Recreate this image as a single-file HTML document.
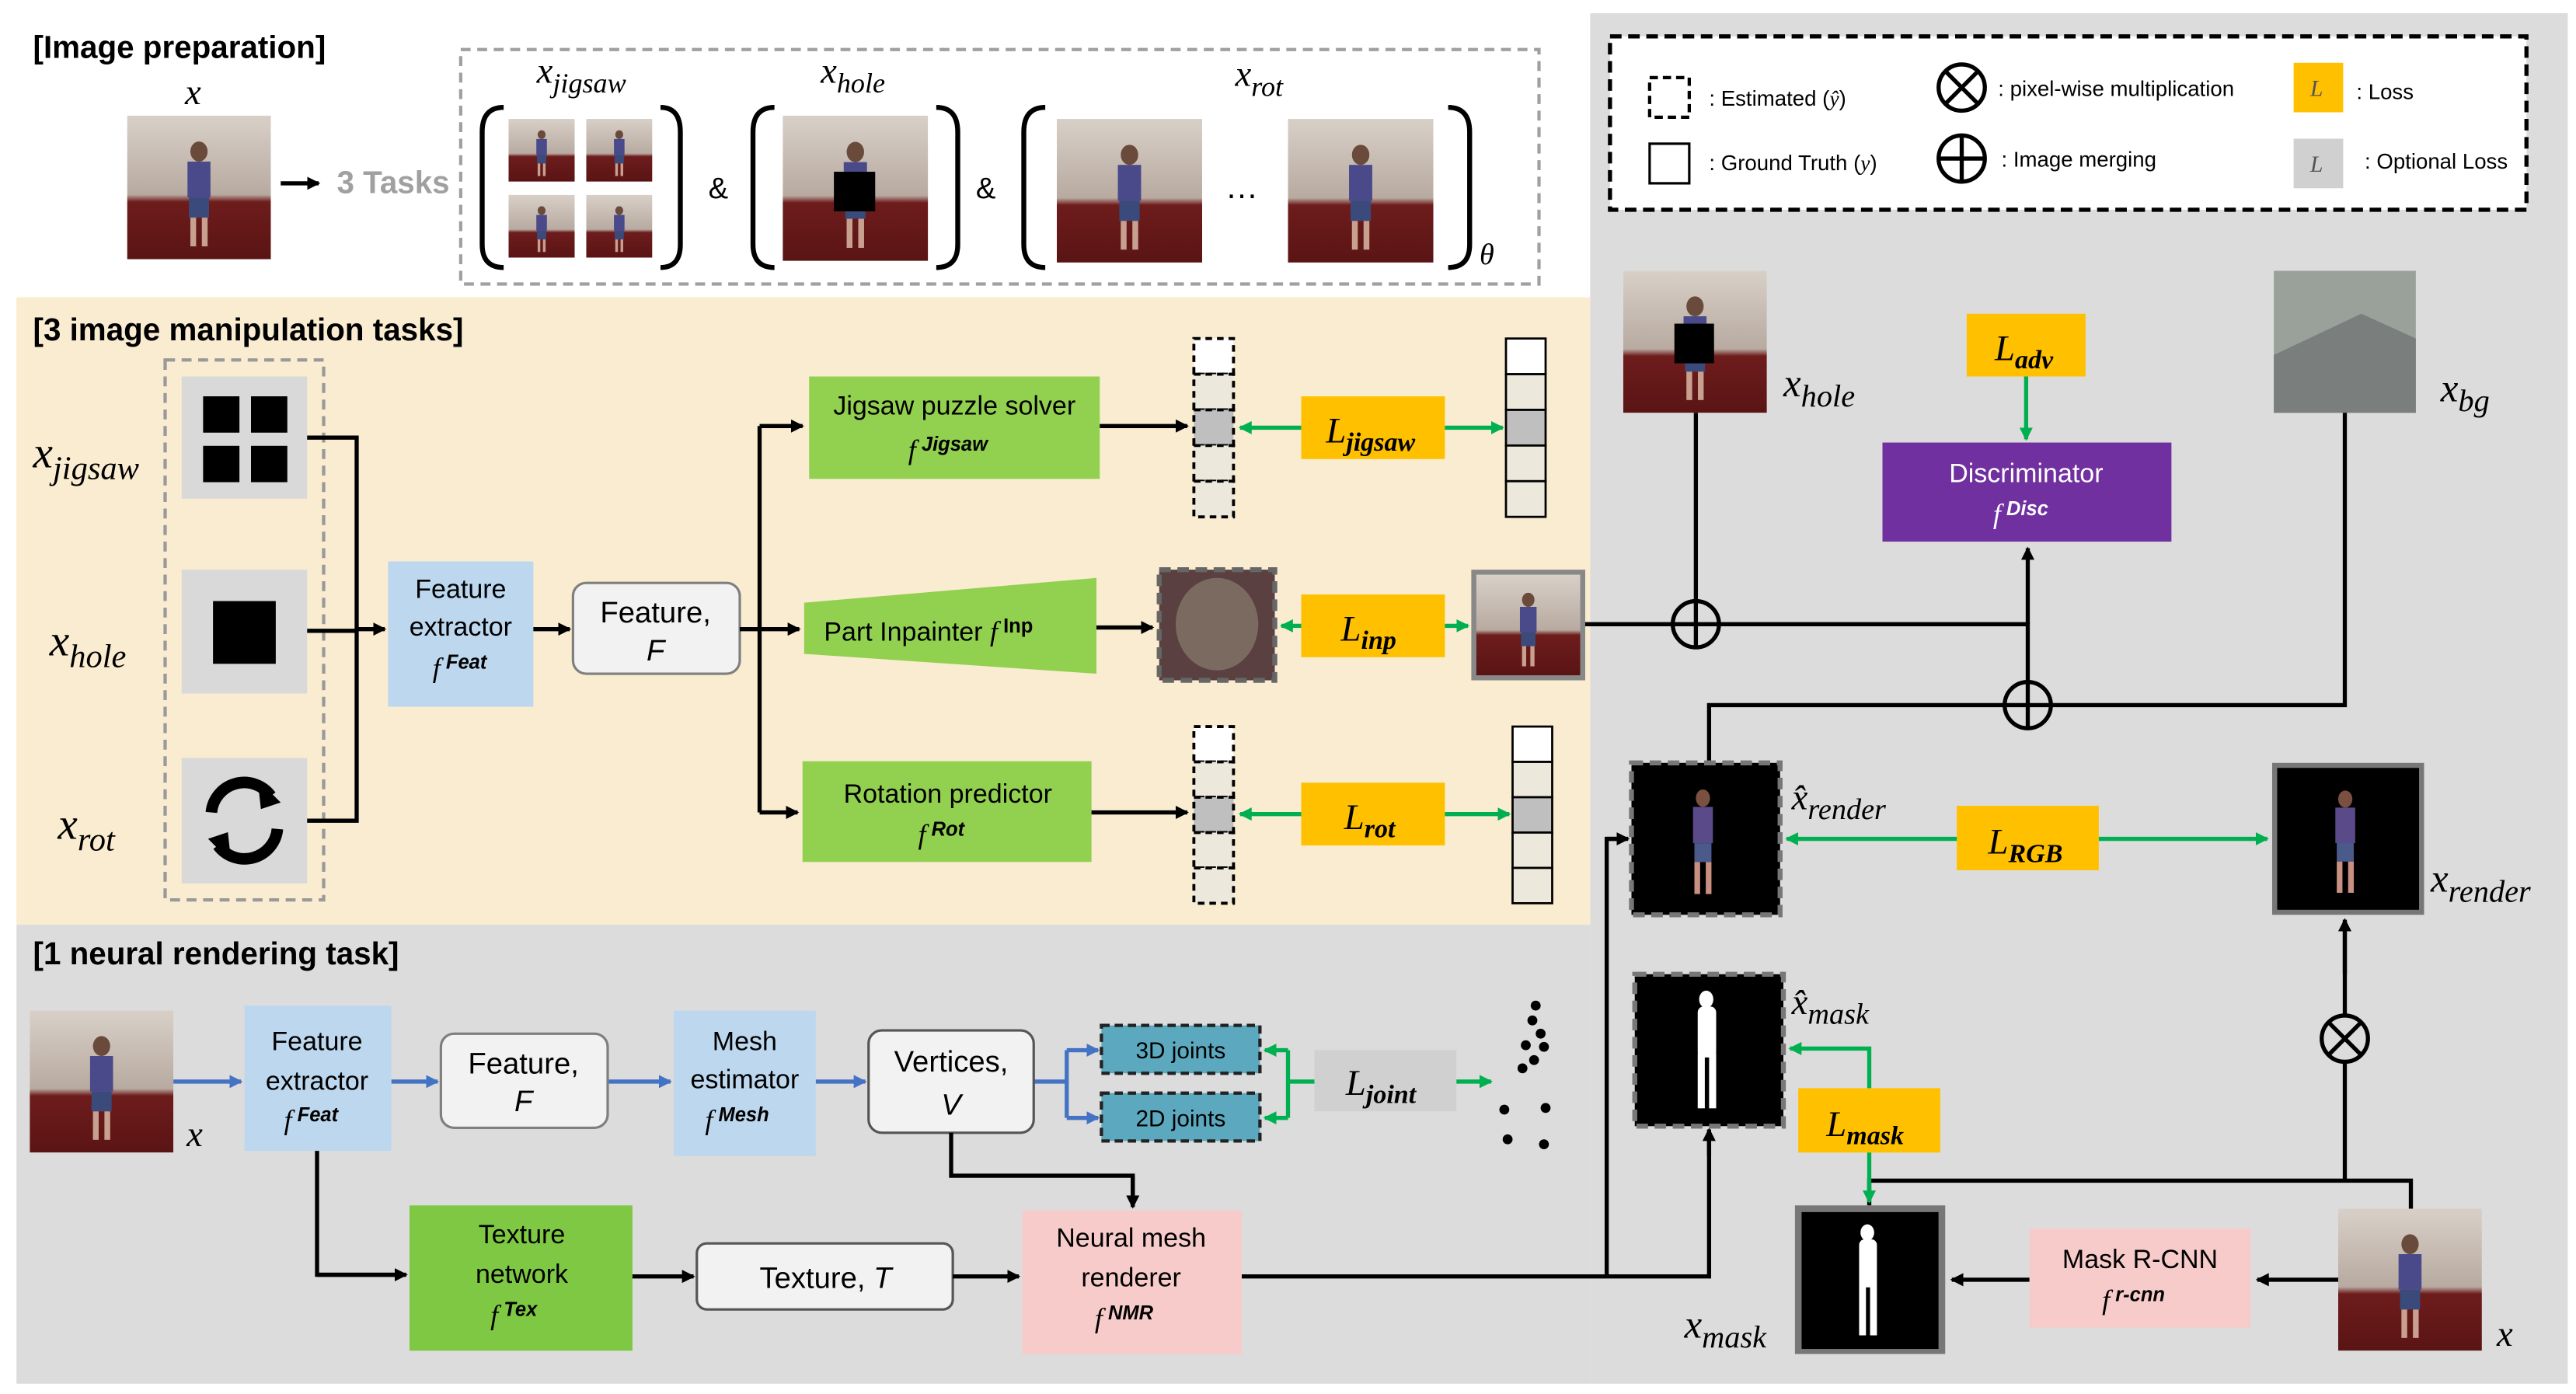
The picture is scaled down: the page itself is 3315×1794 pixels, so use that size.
<!DOCTYPE html>
<html><head><meta charset="utf-8"><style>
html,body{margin:0;padding:0;background:#fff;}
svg{display:block;}
.s{font-family:"Liberation Sans",sans-serif;}
.m{font-family:"Liberation Serif",serif;font-style:italic;}
</style></head><body>
<svg width="3315" height="1794" viewBox="0 0 1560 844.2" xmlns="http://www.w3.org/2000/svg">
<defs>
<marker id="ak" markerWidth="8" markerHeight="8" refX="7" refY="4" orient="auto" markerUnits="userSpaceOnUse"><path d="M0,0 L8,4 L0,8 z" fill="#000"/></marker>
<marker id="ag" markerWidth="8" markerHeight="8" refX="7" refY="4" orient="auto" markerUnits="userSpaceOnUse"><path d="M0,0 L8,4 L0,8 z" fill="#00b050"/></marker>
<marker id="ab" markerWidth="8" markerHeight="8" refX="7" refY="4" orient="auto" markerUnits="userSpaceOnUse"><path d="M0,0 L8,4 L0,8 z" fill="#4472c4"/></marker>
<linearGradient id="pg" x1="0" y1="0" x2="0" y2="1"><stop offset="0" stop-color="#d8d0c8"/><stop offset="0.55" stop-color="#b8aaa0"/><stop offset="0.6" stop-color="#6e1c1c"/><stop offset="1" stop-color="#5a1414"/></linearGradient>
<symbol id="ph" viewBox="0 0 100 100" preserveAspectRatio="none"><rect width="100" height="100" fill="url(#pg)"/><ellipse cx="50" cy="25" rx="6" ry="7" fill="#6a4a3a"/><rect x="42" y="32" width="16" height="25" fill="#4a4a8a"/><rect x="43" y="57" width="14" height="14" fill="#3a4a7a"/><rect x="44" y="71" width="4" height="20" fill="#c8a090"/><rect x="52" y="71" width="4" height="20" fill="#c8a090"/></symbol>
<symbol id="ren" viewBox="0 0 100 100" preserveAspectRatio="none"><rect width="100" height="100" fill="#000"/><ellipse cx="48" cy="22" rx="5" ry="6" fill="#7a5040"/><rect x="41" y="28" width="14" height="25" fill="#5a4a8a"/><rect x="42" y="53" width="12" height="13" fill="#4a5a8a"/><rect x="42" y="66" width="4" height="22" fill="#c89080"/><rect x="50" y="66" width="4" height="22" fill="#c89080"/></symbol>
<symbol id="msk" viewBox="0 0 100 100" preserveAspectRatio="none"><rect width="100" height="100" fill="#000"/><ellipse cx="48" cy="15" rx="5" ry="6" fill="#fff"/><rect x="42" y="20" width="13" height="35" rx="4" fill="#fff"/><rect x="42" y="52" width="5" height="38" fill="#fff"/><rect x="50" y="52" width="5" height="38" fill="#fff"/></symbol>
</defs>

<!-- panels -->
<rect x="963" y="8" width="592" height="830" fill="#dcdcdc"/>
<rect x="10" y="560" width="953" height="278" fill="#dcdcdc"/>
<rect x="10" y="180" width="953" height="380" fill="#f9ecd0"/>

<!-- Image preparation -->
<text x="20" y="35" class="s" font-size="19" font-weight="bold">[Image preparation]</text>
<use href="#ph" x="77" y="70" width="87" height="87"/>
<text x="112" y="63" class="m" font-size="22">x</text>
<line x1="170" y1="111" x2="193" y2="111" stroke="#000" stroke-width="2.5" marker-end="url(#ak)"/>
<text x="204" y="117" class="s" font-size="19" font-weight="bold" fill="#a0a0a0">3 Tasks</text>
<rect x="279" y="30" width="653" height="142" fill="none" stroke="#a0a0a0" stroke-width="2" stroke-dasharray="6,4"/>
<g fill="none" stroke="#000" stroke-width="3">
<path d="M305,65 Q292,65 292,80 L292,148 Q292,162 305,162"/><path d="M400,65 Q412,65 412,80 L412,148 Q412,162 400,162"/>
<path d="M469,65 Q456,65 456,80 L456,148 Q456,162 469,162"/><path d="M567,65 Q580,65 580,80 L580,148 Q580,162 567,162"/>
<path d="M633,65 Q620,65 620,80 L620,148 Q620,162 633,162"/><path d="M877,65 Q890,65 890,80 L890,148 Q890,162 877,162"/>
</g>
<use href="#ph" x="308" y="72" width="40" height="38"/><use href="#ph" x="355" y="72" width="40" height="38"/>
<use href="#ph" x="308" y="118" width="40" height="38"/><use href="#ph" x="355" y="118" width="40" height="38"/>
<text x="325" y="50" class="m" font-size="22">x<tspan font-size="17" dy="6">jigsaw</tspan></text>
<text x="429" y="120" class="s" font-size="18">&amp;</text>
<use href="#ph" x="474" y="70" width="88" height="88"/><rect x="505" y="104" width="25" height="24" fill="#000"/>
<text x="497" y="50" class="m" font-size="22">x<tspan font-size="17" dy="6">hole</tspan></text>
<text x="591" y="120" class="s" font-size="18">&amp;</text>
<use href="#ph" x="640" y="72" width="88" height="87"/><use href="#ph" x="780" y="72" width="88" height="87"/>
<text x="742" y="120" class="s" font-size="20">…</text>
<text x="748" y="52" class="m" font-size="22">x<tspan font-size="17" dy="6">rot</tspan></text>
<text x="896" y="160" class="m" font-size="18">θ</text>

<!-- legend -->
<rect x="975" y="22" width="555" height="105" fill="#fff" stroke="#000" stroke-width="2.5" stroke-dasharray="7,4"/>
<rect x="999" y="47" width="24" height="24" fill="none" stroke="#000" stroke-width="2" stroke-dasharray="5,3"/>
<text x="1035" y="64" class="s" font-size="13">: Estimated (<tspan class="m">ŷ</tspan>)</text>
<rect x="999" y="87" width="24" height="24" fill="none" stroke="#000" stroke-width="1.5"/>
<text x="1035" y="103" class="s" font-size="13">: Ground Truth (<tspan class="m">y</tspan>)</text>
<g stroke="#000" stroke-width="2.5" fill="none">
<circle cx="1188" cy="53" r="14"/><path d="M1178,43 L1198,63 M1198,43 L1178,63"/>
<circle cx="1188" cy="96" r="14"/><path d="M1174,96 L1202,96 M1188,82 L1188,110"/>
</g>
<text x="1210" y="58" class="s" font-size="13">: pixel-wise multiplication</text>
<text x="1212" y="101" class="s" font-size="13">: Image merging</text>
<rect x="1389" y="38" width="30" height="30" fill="#ffc000"/><text x="1399" y="58" class="m" font-size="14" fill="#555">L</text>
<text x="1427" y="60" class="s" font-size="13">: Loss</text>
<rect x="1389" y="84" width="30" height="30" fill="#d0d0d0"/><text x="1399" y="104" class="m" font-size="14" fill="#555">L</text>
<text x="1432" y="102" class="s" font-size="13">: Optional Loss</text>

<!-- 3 manipulation tasks -->
<text x="20" y="206" class="s" font-size="19" font-weight="bold">[3 image manipulation tasks]</text>
<text x="20" y="283" class="m" font-size="27">x<tspan font-size="20" dy="7">jigsaw</tspan></text>
<text x="30" y="397" class="m" font-size="27">x<tspan font-size="20" dy="7">hole</tspan></text>
<text x="35" y="508" class="m" font-size="27">x<tspan font-size="20" dy="7">rot</tspan></text>
<rect x="100" y="218" width="96" height="327" fill="none" stroke="#999" stroke-width="2" stroke-dasharray="6,4"/>
<rect x="110" y="228" width="76" height="74" fill="#d9d9d9"/>
<rect x="123" y="240" width="22" height="22" fill="#000"/><rect x="152" y="240" width="22" height="22" fill="#000"/>
<rect x="123" y="270" width="22" height="22" fill="#000"/><rect x="152" y="270" width="22" height="22" fill="#000"/>
<rect x="110" y="345" width="76" height="75" fill="#d9d9d9"/><rect x="129" y="364" width="38" height="38" fill="#000"/>
<rect x="110" y="459" width="76" height="76" fill="#d9d9d9"/>
<g fill="none" stroke="#000" stroke-width="7"><path d="M128,492 A20,20 0 0 1 164,482"/><path d="M168,502 A20,20 0 0 1 132,512"/></g>
<path d="M156,472 L170,486 L158,490 z M140,522 L126,508 L138,504 z" fill="#000"/>
<g stroke="#000" stroke-width="2.5" fill="none">
<path d="M186,265 L216,265 L216,497 L186,497 M186,382 L216,382"/>
</g>
<line x1="216" y1="381" x2="233" y2="381" stroke="#000" stroke-width="2.5" marker-end="url(#ak)"/>
<rect x="235" y="340" width="88" height="88" fill="#bdd7ee"/>
<text x="279" y="362" class="s" font-size="16" text-anchor="middle">Feature</text>
<text x="279" y="385" class="s" font-size="16" text-anchor="middle">extractor</text>
<text x="262" y="410" class="m" font-size="17">f<tspan class="s" font-size="12" font-weight="bold" dy="-5"> Feat</tspan></text>
<line x1="323" y1="381" x2="345" y2="381" stroke="#000" stroke-width="2.5" marker-end="url(#ak)"/>
<rect x="347" y="353" width="101" height="55" rx="8" fill="#f2f2f2" stroke="#7f7f7f" stroke-width="1.5"/>
<text x="397" y="377" class="s" font-size="18" text-anchor="middle">Feature,</text>
<text x="397" y="400" class="s" font-size="18" text-anchor="middle" font-style="italic">F</text>
<g stroke="#000" stroke-width="2.5" fill="none"><path d="M448,381 L460,381 M460,258 L460,492"/></g>
<line x1="460" y1="258" x2="486" y2="258" stroke="#000" stroke-width="2.5" marker-end="url(#ak)"/>
<line x1="460" y1="381" x2="484" y2="381" stroke="#000" stroke-width="2.5" marker-end="url(#ak)"/>
<line x1="460" y1="492" x2="483" y2="492" stroke="#000" stroke-width="2.5" marker-end="url(#ak)"/>
<rect x="490" y="228" width="176" height="62" fill="#92d050"/>
<text x="578" y="251" class="s" font-size="16" text-anchor="middle">Jigsaw puzzle solver</text>
<text x="550" y="278" class="m" font-size="17">f<tspan class="s" font-size="12" font-weight="bold" dy="-5"> Jigsaw</tspan></text>
<path d="M487,365 L664,350 L664,408 L487,396 z" fill="#92d050"/>
<text x="499" y="388" class="s" font-size="16">Part Inpainter <tspan class="m" font-size="17">f</tspan><tspan font-size="12" font-weight="bold" dy="-5"> Inp</tspan></text>
<rect x="486" y="461" width="175" height="61" fill="#92d050"/>
<text x="574" y="486" class="s" font-size="16" text-anchor="middle">Rotation predictor</text>
<text x="556" y="511" class="m" font-size="17">f<tspan class="s" font-size="12" font-weight="bold" dy="-5"> Rot</tspan></text>

<line x1="666" y1="258" x2="719" y2="258" stroke="#000" stroke-width="2.5" marker-end="url(#ak)"/>
<line x1="664" y1="380" x2="698" y2="380" stroke="#000" stroke-width="2.5" marker-end="url(#ak)"/>
<line x1="661" y1="492" x2="719" y2="492" stroke="#000" stroke-width="2.5" marker-end="url(#ak)"/>
<!-- stacks -->
<g stroke="#000" stroke-width="1.8" stroke-dasharray="4,3">
<rect x="723" y="205" width="24" height="21.6" fill="#fff"/><rect x="723" y="226.6" width="24" height="21.6" fill="#ece8dc"/><rect x="723" y="248.2" width="24" height="21.6" fill="#bfbfbf"/><rect x="723" y="269.8" width="24" height="21.6" fill="#ece8dc"/><rect x="723" y="291.4" width="24" height="21.6" fill="#ece8dc"/>
<rect x="723" y="440" width="24" height="21.4" fill="#fff"/><rect x="723" y="461.4" width="24" height="21.4" fill="#ece8dc"/><rect x="723" y="482.8" width="24" height="21.4" fill="#bfbfbf"/><rect x="723" y="504.2" width="24" height="21.4" fill="#ece8dc"/><rect x="723" y="525.6" width="24" height="21.4" fill="#ece8dc"/>
</g>
<g stroke="#000" stroke-width="1.3">
<rect x="912" y="205" width="24" height="21.6" fill="#fff"/><rect x="912" y="226.6" width="24" height="21.6" fill="#ece8dc"/><rect x="912" y="248.2" width="24" height="21.6" fill="#bfbfbf"/><rect x="912" y="269.8" width="24" height="21.6" fill="#ece8dc"/><rect x="912" y="291.4" width="24" height="21.6" fill="#ece8dc"/>
<rect x="916" y="440" width="24" height="21.4" fill="#fff"/><rect x="916" y="461.4" width="24" height="21.4" fill="#ece8dc"/><rect x="916" y="482.8" width="24" height="21.4" fill="#bfbfbf"/><rect x="916" y="504.2" width="24" height="21.4" fill="#ece8dc"/><rect x="916" y="525.6" width="24" height="21.4" fill="#ece8dc"/>
</g>
<rect x="702" y="345" width="70" height="67" fill="#5a4040" stroke="#666" stroke-width="3" stroke-dasharray="7,4"/>
<ellipse cx="737" cy="378" rx="25" ry="28" fill="#7a6a60"/>
<rect x="891" y="345" width="69" height="67" fill="#888"/><use href="#ph" x="894" y="348" width="63" height="61"/>
<!-- losses -->
<g fill="#ffc000"><rect x="788" y="240" width="87" height="38"/><rect x="788" y="360" width="87" height="38"/><rect x="788" y="474" width="87" height="38"/></g>
<text x="803" y="268" class="m" font-size="22">L<tspan font-size="16" font-weight="bold" dy="5">jigsaw</tspan></text>
<text x="812" y="388" class="m" font-size="22">L<tspan font-size="16" font-weight="bold" dy="5">inp</tspan></text>
<text x="814" y="502" class="m" font-size="22">L<tspan font-size="16" font-weight="bold" dy="5">rot</tspan></text>
<g stroke="#00b050" stroke-width="2.5">
<line x1="788" y1="259" x2="751" y2="259" marker-end="url(#ag)"/><line x1="875" y1="259" x2="910" y2="259" marker-end="url(#ag)"/>
<line x1="788" y1="379" x2="776" y2="379" marker-end="url(#ag)"/><line x1="875" y1="379" x2="889" y2="379" marker-end="url(#ag)"/>
<line x1="788" y1="493" x2="751" y2="493" marker-end="url(#ag)"/><line x1="875" y1="493" x2="914" y2="493" marker-end="url(#ag)"/>
</g>

<!-- right panel -->
<use href="#ph" x="983" y="164" width="87" height="86"/><rect x="1014" y="196" width="24" height="24" fill="#000"/>
<text x="1080" y="240" class="m" font-size="24">x<tspan font-size="19" dy="6">hole</tspan></text>
<rect x="1377" y="164" width="86" height="86" fill="#9aa09a"/><path d="M1377,215 L1430,190 L1463,205 L1463,250 L1377,250z" fill="#7a7f7e"/>
<text x="1478" y="243" class="m" font-size="24">x<tspan font-size="19" dy="6">bg</tspan></text>
<rect x="1191" y="190" width="72" height="38" fill="#ffc000"/>
<text x="1208" y="218" class="m" font-size="22">L<tspan font-size="16" font-weight="bold" dy="5">adv</tspan></text>
<line x1="1227" y1="228" x2="1227" y2="266" stroke="#00b050" stroke-width="2.5" marker-end="url(#ag)"/>
<rect x="1140" y="268" width="175" height="60" fill="#7030a0"/>
<text x="1227" y="292" class="s" font-size="16" fill="#fff" text-anchor="middle">Discriminator</text>
<text x="1207" y="317" class="m" font-size="17" fill="#fff">f<tspan class="s" font-size="12" font-weight="bold" dy="-5"> Disc</tspan></text>
<g stroke="#000" stroke-width="2.5" fill="none">
<path d="M960,378 L1228,378 L1228,413"/>
<path d="M1027,250 L1027,364"/>
<path d="M1420,250 L1420,427 L1242,427"/>
<path d="M1214,427 L1035,427 L1035,462"/>
<circle cx="1027" cy="378" r="14" fill="#dcdcdc"/><path d="M1013,378 L1041,378 M1027,364 L1027,392"/>
<circle cx="1228" cy="427" r="14" fill="#dcdcdc"/><path d="M1214,427 L1242,427 M1228,413 L1228,441"/>
</g>
<line x1="1228" y1="378" x2="1228" y2="332" stroke="#000" stroke-width="2.5" marker-end="url(#ak)"/>
<rect x="988" y="462" width="90" height="92" fill="#000" stroke="#777" stroke-width="3" stroke-dasharray="7,4"/><use href="#ren" x="990" y="464" width="86" height="88"/>
<text x="1085" y="490" class="m" font-size="22">x̂<tspan font-size="18" dy="6">render</tspan></text>
<rect x="1185" y="488" width="86" height="39" fill="#ffc000"/>
<text x="1204" y="517" class="m" font-size="22">L<tspan font-size="16" font-weight="bold" dy="5">RGB</tspan></text>
<line x1="1185" y1="508" x2="1082" y2="508" stroke="#00b050" stroke-width="2.5" marker-end="url(#ag)"/>
<line x1="1271" y1="508" x2="1373" y2="508" stroke="#00b050" stroke-width="2.5" marker-end="url(#ag)"/>
<rect x="1376" y="462" width="92" height="92" fill="#777"/><use href="#ren" x="1379" y="465" width="86" height="86"/>
<text x="1472" y="540" class="m" font-size="24">x<tspan font-size="19" dy="6">render</tspan></text>
<g stroke="#000" stroke-width="2.5" fill="none">
<path d="M1420,615 L1420,558"/>
<path d="M1420,643 L1420,715 M1132,730 L1132,715 L1460,715 L1460,732"/>
<circle cx="1420" cy="629" r="14" fill="#dcdcdc"/><path d="M1410,619 L1430,639 M1430,619 L1410,639"/>
</g>
<line x1="1420" y1="590" x2="1420" y2="557" stroke="#000" stroke-width="2.5" marker-end="url(#ak)"/>
<rect x="990" y="590" width="90" height="92" fill="#000" stroke="#777" stroke-width="3" stroke-dasharray="7,4"/><use href="#msk" x="992" y="592" width="86" height="88"/>
<text x="1085" y="614" class="m" font-size="22">x̂<tspan font-size="18" dy="6">mask</tspan></text>
<rect x="1089" y="659" width="86" height="39" fill="#ffc000"/>
<text x="1106" y="688" class="m" font-size="22">L<tspan font-size="16" font-weight="bold" dy="5">mask</tspan></text>
<path d="M1132,659 L1132,635 L1084,635" stroke="#00b050" stroke-width="2.5" fill="none" marker-end="url(#ag)"/>
<line x1="1132" y1="698" x2="1132" y2="728" stroke="#00b050" stroke-width="2.5" marker-end="url(#ag)"/>
<rect x="1087" y="730" width="91" height="90" fill="#777"/><use href="#msk" x="1091" y="734" width="83" height="83"/>
<text x="1020" y="810" class="m" font-size="24">x<tspan font-size="19" dy="6">mask</tspan></text>
<rect x="1229" y="744" width="134" height="60" fill="#f8cbcb"/>
<text x="1296" y="768" class="s" font-size="16" text-anchor="middle">Mask R-CNN</text>
<text x="1273" y="793" class="m" font-size="17">f<tspan class="s" font-size="12" font-weight="bold" dy="-5"> r-cnn</tspan></text>
<use href="#ph" x="1416" y="732" width="87" height="86"/>
<text x="1512" y="815" class="m" font-size="22">x</text>
<line x1="1416" y1="775" x2="1367" y2="775" stroke="#000" stroke-width="2.5" marker-end="url(#ak)"/>
<line x1="1229" y1="775" x2="1182" y2="775" stroke="#000" stroke-width="2.5" marker-end="url(#ak)"/>

<!-- bottom neural rendering -->
<text x="20" y="584" class="s" font-size="19" font-weight="bold">[1 neural rendering task]</text>
<use href="#ph" x="18" y="612" width="87" height="86"/>
<text x="113" y="694" class="m" font-size="22">x</text>
<g stroke="#4472c4" stroke-width="2.5">
<line x1="105" y1="655" x2="146" y2="655" marker-end="url(#ab)"/>
<line x1="237" y1="655" x2="265" y2="655" marker-end="url(#ab)"/>
<line x1="368" y1="655" x2="406" y2="655" marker-end="url(#ab)"/>
<line x1="494" y1="655" x2="524" y2="655" marker-end="url(#ab)"/>
<path d="M626,655 L646,655 L646,636 M646,655 L646,677" fill="none"/>
<line x1="646" y1="636" x2="665" y2="636" marker-end="url(#ab)"/>
<line x1="646" y1="677" x2="665" y2="677" marker-end="url(#ab)"/>
</g>
<rect x="148" y="609" width="89" height="88" fill="#bdd7ee"/>
<text x="192" y="636" class="s" font-size="16" text-anchor="middle">Feature</text>
<text x="192" y="660" class="s" font-size="16" text-anchor="middle">extractor</text>
<text x="172" y="684" class="m" font-size="17">f<tspan class="s" font-size="12" font-weight="bold" dy="-5"> Feat</tspan></text>
<rect x="267" y="626" width="101" height="57" rx="8" fill="#f2f2f2" stroke="#7f7f7f" stroke-width="1.5"/>
<text x="317" y="650" class="s" font-size="18" text-anchor="middle">Feature,</text>
<text x="317" y="673" class="s" font-size="18" text-anchor="middle" font-style="italic">F</text>
<rect x="408" y="612" width="86" height="88" fill="#bdd7ee"/>
<text x="451" y="636" class="s" font-size="16" text-anchor="middle">Mesh</text>
<text x="451" y="659" class="s" font-size="16" text-anchor="middle">estimator</text>
<text x="427" y="684" class="m" font-size="17">f<tspan class="s" font-size="12" font-weight="bold" dy="-5"> Mesh</tspan></text>
<rect x="526" y="624" width="100" height="62" rx="8" fill="#f2f2f2" stroke="#555" stroke-width="1.5"/>
<text x="576" y="649" class="s" font-size="18" text-anchor="middle">Vertices,</text>
<text x="576" y="675" class="s" font-size="18" text-anchor="middle" font-style="italic">V</text>
<rect x="667" y="621" width="96" height="29" fill="#5ba8bf" stroke="#222" stroke-width="2" stroke-dasharray="5,3"/>
<text x="715" y="641" class="s" font-size="14" text-anchor="middle">3D joints</text>
<rect x="667" y="662" width="96" height="29" fill="#5ba8bf" stroke="#222" stroke-width="2" stroke-dasharray="5,3"/>
<text x="715" y="682" class="s" font-size="14" text-anchor="middle">2D joints</text>
<rect x="796" y="636" width="86" height="37" fill="#d0d0d0"/>
<text x="815" y="663" class="m" font-size="22">L<tspan font-size="16" font-weight="bold" dy="5">joint</tspan></text>
<g stroke="#00b050" stroke-width="2.5" fill="none">
<path d="M796,655 L780,655 M780,636 L780,677"/>
<line x1="780" y1="636" x2="766" y2="636" marker-end="url(#ag)"/>
<line x1="780" y1="677" x2="766" y2="677" marker-end="url(#ag)"/>
<line x1="882" y1="655" x2="903" y2="655" marker-end="url(#ag)"/>
</g>
<g fill="#000"><circle cx="930" cy="609" r="3"/><circle cx="928" cy="618" r="3"/><circle cx="933" cy="626" r="3"/><circle cx="924" cy="633" r="3"/><circle cx="935" cy="634" r="3"/><circle cx="929" cy="642" r="3"/><circle cx="922" cy="647" r="3"/><circle cx="911" cy="672" r="3"/><circle cx="936" cy="671" r="3"/><circle cx="913" cy="690" r="3"/><circle cx="935" cy="693" r="3"/></g>
<g stroke="#000" stroke-width="2.5" fill="none">
<path d="M576,686 L576,712 L686,712 L686,730"/>
<path d="M192,697 L192,772 L244,772"/>
<path d="M752,773 L973,773 L973,508 L984,508 M973,773 L1035,773 L1035,686"/>
</g>
<line x1="686" y1="712" x2="686" y2="731" stroke="#000" stroke-width="2.5" marker-end="url(#ak)"/>
<line x1="192" y1="772" x2="246" y2="772" stroke="#000" stroke-width="2.5" marker-end="url(#ak)"/>
<line x1="973" y1="508" x2="986" y2="508" stroke="#000" stroke-width="2.5" marker-end="url(#ak)"/>
<line x1="1035" y1="700" x2="1035" y2="684" stroke="#000" stroke-width="2.5" marker-end="url(#ak)"/>
<rect x="248" y="730" width="135" height="88" fill="#70ad47" opacity="0"/>
<rect x="248" y="730" width="135" height="88" fill="#7ec843"/>
<text x="316" y="753" class="s" font-size="16" text-anchor="middle">Texture</text>
<text x="316" y="777" class="s" font-size="16" text-anchor="middle">network</text>
<text x="297" y="802" class="m" font-size="17">f<tspan class="s" font-size="12" font-weight="bold" dy="-5"> Tex</tspan></text>
<line x1="383" y1="773" x2="420" y2="773" stroke="#000" stroke-width="2.5" marker-end="url(#ak)"/>
<rect x="422" y="753" width="155" height="40" rx="6" fill="#f2f2f2" stroke="#555" stroke-width="1.5"/>
<text x="500" y="780" class="s" font-size="18" text-anchor="middle">Texture, <tspan font-style="italic">T</tspan></text>
<line x1="577" y1="773" x2="617" y2="773" stroke="#000" stroke-width="2.5" marker-end="url(#ak)"/>
<rect x="619" y="733" width="133" height="87" fill="#f8cbcb"/>
<text x="685" y="755" class="s" font-size="16" text-anchor="middle">Neural mesh</text>
<text x="685" y="779" class="s" font-size="16" text-anchor="middle">renderer</text>
<text x="663" y="804" class="m" font-size="17">f<tspan class="s" font-size="12" font-weight="bold" dy="-5"> NMR</tspan></text>
</svg>
</body></html>
